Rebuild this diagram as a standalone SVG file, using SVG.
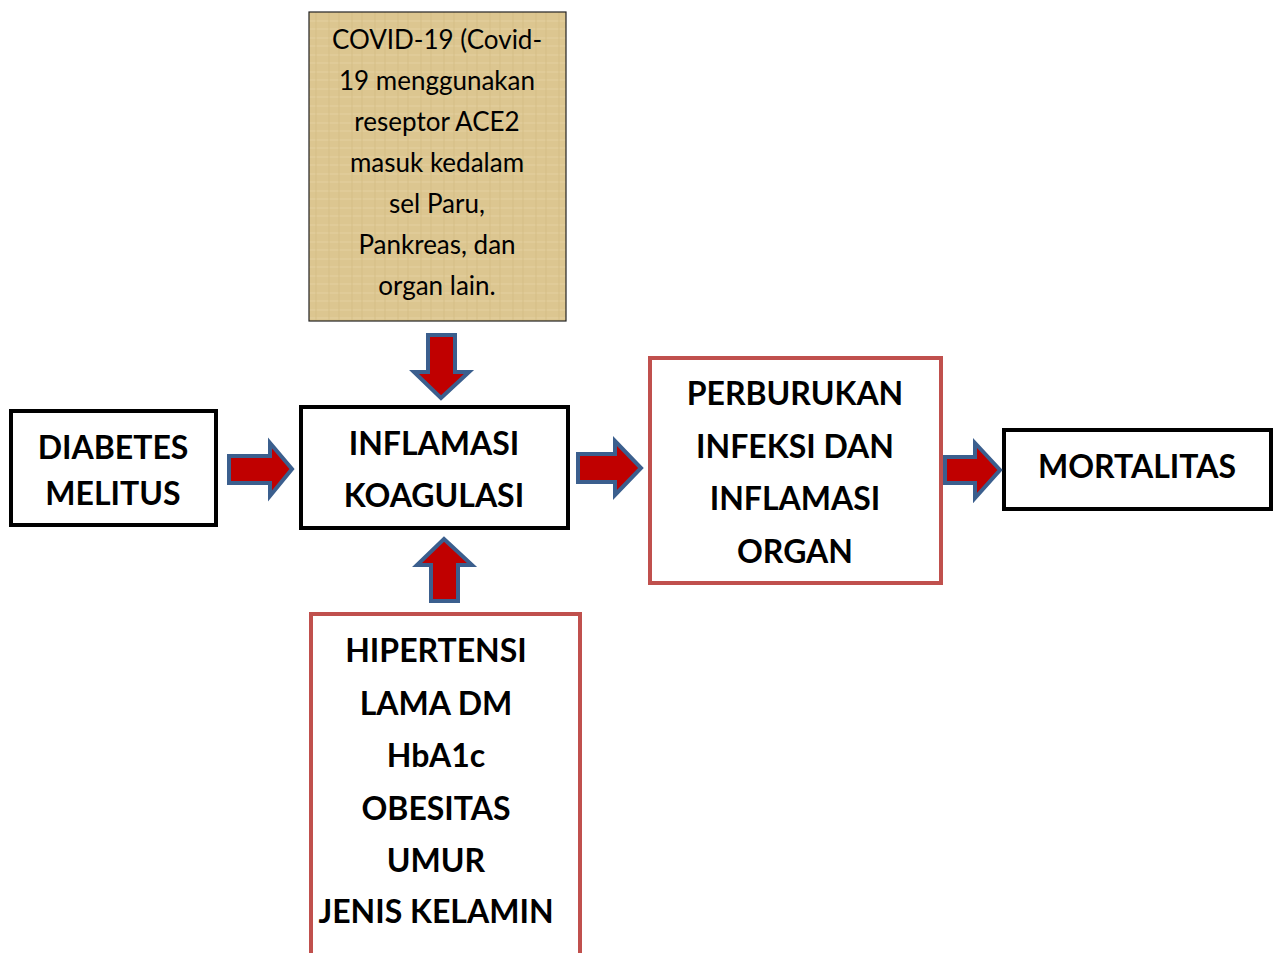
<svg xmlns="http://www.w3.org/2000/svg" width="1280" height="953" viewBox="0 0 1280 953">
<style>
.bk{fill:#fff;stroke:#000;stroke-width:4}
.rd{fill:#fff;stroke:#c0504d;stroke-width:4}
.t{font-family:Lato,"Liberation Sans",sans-serif;font-weight:bold;font-size:32px;fill:#000;text-anchor:middle}
.c{font-family:Lato,"Liberation Sans",sans-serif;font-size:26px;fill:#000;text-anchor:middle}
.ar{fill:#c00000;stroke:#3b5f8e;stroke-width:4;stroke-linejoin:miter}
</style>
<defs>
<pattern id="pap" width="23" height="17" patternUnits="userSpaceOnUse">
<rect width="23" height="17" fill="#dcc690"/>
<path d="M0 4H23M0 12H23" stroke="#e4d1a0" stroke-width="1.5" opacity="0.7"/>
<path d="M7 0V17M17 0V17" stroke="#d2bb82" stroke-width="1.2" opacity="0.7"/>
</pattern>
</defs>
<rect width="1280" height="953" fill="#fff"/>
<g id="covid">
<rect x="309" y="12" width="257" height="309" fill="url(#pap)" stroke="#222" stroke-width="1.2"/>
<text class="c" x="437" y="49">COVID-19 (Covid-</text>
<text class="c" x="437" y="90">19 menggunakan</text>
<text class="c" x="437" y="131">reseptor ACE2</text>
<text class="c" x="437" y="172">masuk kedalam</text>
<text class="c" x="437" y="213">sel Paru,</text>
<text class="c" x="437" y="254">Pankreas, dan</text>
<text class="c" x="437" y="295">organ lain.</text>
</g>
<g id="diabetes">
<rect class="bk" x="11" y="411" width="205" height="114"/>
<text class="t" x="113" y="459">DIABETES</text>
<text class="t" x="113" y="505">MELITUS</text>
</g>
<g id="inflamasi">
<rect class="bk" x="301" y="407" width="267" height="121"/>
<text class="t" x="434" y="455">INFLAMASI</text>
<text class="t" x="434" y="507">KOAGULASI</text>
</g>
<g id="perburukan">
<rect class="rd" x="650" y="358" width="291" height="225"/>
<text class="t" x="795" y="405">PERBURUKAN</text>
<text class="t" x="795" y="458">INFEKSI DAN</text>
<text class="t" x="795" y="510">INFLAMASI</text>
<text class="t" x="795" y="563">ORGAN</text>
</g>
<g id="mortalitas">
<rect class="bk" x="1004" y="430" width="267" height="79"/>
<text class="t" x="1137" y="478">MORTALITAS</text>
</g>
<g id="faktor">
<rect class="rd" x="311" y="614" width="269" height="345"/>
<text class="t" x="436" y="662">HIPERTENSI</text>
<text class="t" x="436" y="715">LAMA DM</text>
<text class="t" x="436" y="767">HbA1c</text>
<text class="t" x="436" y="820">OBESITAS</text>
<text class="t" x="436" y="872">UMUR</text>
<text class="t" x="436" y="923">JENIS KELAMIN</text>
</g>
<g id="connectors">
<polygon class="ar" points="428,335 455,335 455,372 469,372 441,398 414,372 428,372"/>
<polygon class="ar" points="431,601 458,601 458,565 472,565 444,539 417,565 431,565"/>
<polygon class="ar" points="229,456 270,456 270,443 292,469 270,496 270,483 229,483"/>
<polygon class="ar" points="578,454 615,454 615,441 641,468 615,495 615,482 578,482"/>
<polygon class="ar" points="945,457 975,457 975,443 1000,470 975,498 975,483 945,483"/>
</g>
</svg>
